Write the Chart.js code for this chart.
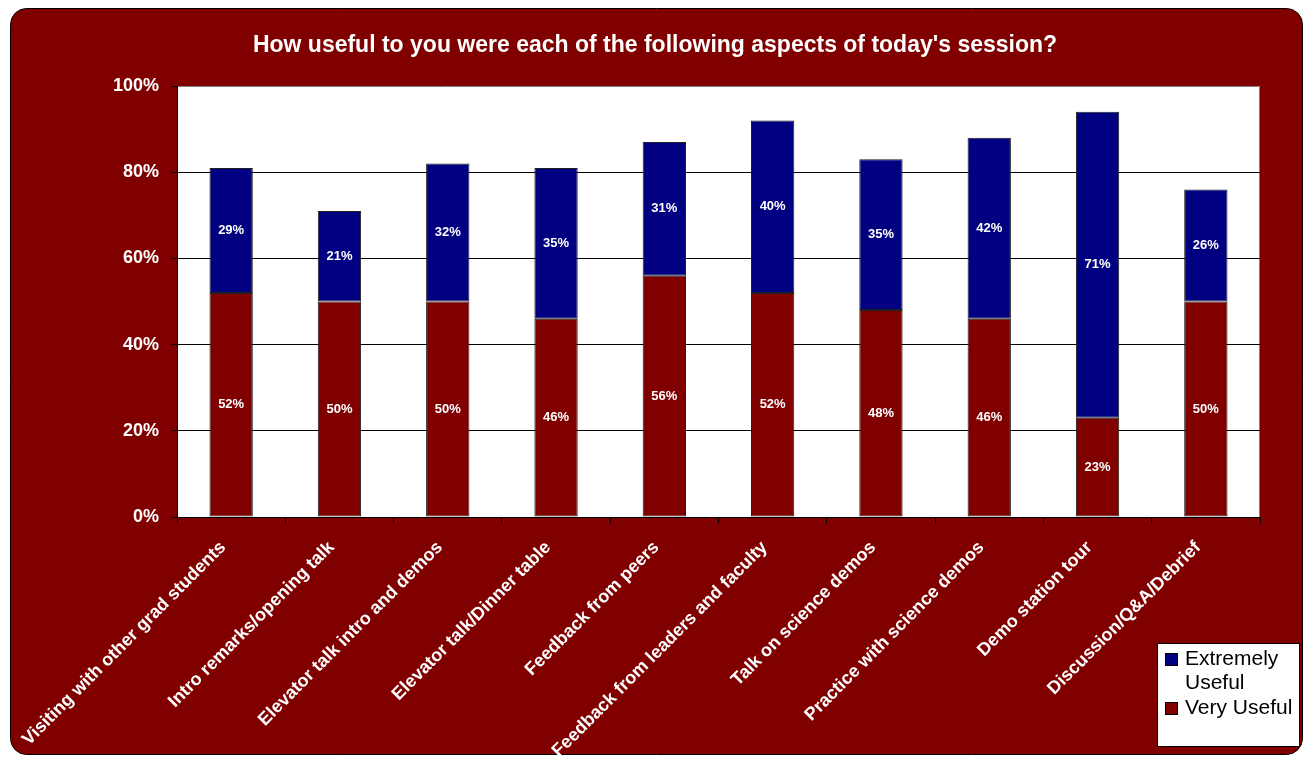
<!DOCTYPE html>
<html>
<head>
<meta charset="utf-8">
<title>Session usefulness</title>
<script src="https://cdn.jsdelivr.net/npm/chart.js@4.4.1/dist/chart.umd.min.js"></script>
<style>
  html, body { margin: 0; padding: 0; background: #ffffff; }
  #wrap { position: relative; width: 1304px; height: 757px; }
</style>
</head>
<body>
<div id="wrap"><canvas id="usefulChart" width="1304" height="757"></canvas></div>
<script>
// Survey results: share of respondents per rating
const aspects = [
    'Visiting with other grad students',
    'Intro remarks/opening talk',
    'Elevator talk intro and demos',
    'Elevator talk/Dinner table',
    'Feedback from peers',
    'Feedback from leaders and faculty',
    'Talk on science demos',
    'Practice with science demos',
    'Demo station tour',
    'Discussion/Q&A/Debrief'
];
const veryUseful = [52, 50, 50, 46, 56, 52, 48, 46, 23, 50];
const extremelyUseful = [29, 21, 32, 35, 31, 40, 35, 42, 71, 26];
const percentTicks = [0, 20, 40, 60, 80, 100];

const MAROON = '#800000';
const NAVY = '#000080';
const FONT = 'Arial, "Liberation Sans", sans-serif';

// Rounded maroon frame and white plot area behind everything
const framePlugin = {
    id: 'frame',
    beforeDraw(chart) {
        const ctx = chart.ctx;
        const a = chart.chartArea;
        ctx.save();
        ctx.beginPath();
        ctx.roundRect(10.5, 8.5, 1292, 746, 16);
        ctx.fillStyle = MAROON;
        ctx.fill();
        ctx.lineWidth = 1;
        ctx.strokeStyle = '#000000';
        ctx.stroke();
        ctx.fillStyle = '#ffffff';
        ctx.fillRect(a.left, a.top, a.right - a.left, a.bottom - a.top);
        // grey border on top and right of the plot area
        ctx.strokeStyle = '#808080';
        ctx.beginPath();
        ctx.moveTo(a.left, a.top + 0.5);
        ctx.lineTo(a.right - 0.5, a.top + 0.5);
        ctx.lineTo(a.right - 0.5, a.bottom);
        ctx.stroke();
        ctx.restore();
    }
};

// White percentage labels centred in every bar segment
const segmentLabels = {
    id: 'segmentLabels',
    afterDatasetsDraw(chart) {
        const ctx = chart.ctx;
        ctx.save();
        ctx.font = 'bold 13px ' + FONT;
        ctx.fillStyle = '#ffffff';
        ctx.textAlign = 'center';
        ctx.textBaseline = 'middle';
        chart.data.datasets.forEach((ds, i) => {
            chart.getDatasetMeta(i).data.forEach((bar, j) => {
                ctx.fillText(ds.data[j] + '%', bar.x, (bar.y + bar.base) / 2);
            });
        });
        ctx.restore();
    }
};

// Boxed legend in the lower right corner, top entry first
const boxLegend = {
    id: 'boxLegend',
    afterDraw(chart) {
        const ctx = chart.ctx;
        const x = 1157, y = 643, w = 143, h = 104;
        ctx.save();
        ctx.fillStyle = '#ffffff';
        ctx.fillRect(x, y, w, h);
        ctx.strokeStyle = '#000000';
        ctx.lineWidth = 1;
        ctx.strokeRect(x + 0.5, y + 0.5, w - 1, h - 1);
        ctx.font = '21px ' + FONT;
        ctx.textBaseline = 'middle';
        const entries = [
            { ds: chart.data.datasets[1], lines: ['Extremely', 'Useful'] },
            { ds: chart.data.datasets[0], lines: ['Very Useful'] }
        ];
        let row = y + 16;
        entries.forEach(e => {
            ctx.fillStyle = e.ds.backgroundColor;
            ctx.fillRect(x + 8, row - 6, 13, 13);
            ctx.strokeStyle = '#000000';
            ctx.strokeRect(x + 8.5, row - 5.5, 12, 12);
            ctx.fillStyle = '#000000';
            e.lines.forEach(t => {
                ctx.fillText(t, x + 28, row);
                row += 24.5;
            });
        });
        ctx.restore();
    }
};

new Chart(document.getElementById('usefulChart'), {
    type: 'bar',
    data: {
        labels: aspects,
        datasets: [
            {
                label: 'Very Useful',
                data: veryUseful,
                backgroundColor: MAROON,
                borderColor: '#202020',
                borderWidth: 1,
                borderSkipped: false,
                barPercentage: 0.4,
                categoryPercentage: 1
            },
            {
                label: 'Extremely Useful',
                data: extremelyUseful,
                backgroundColor: NAVY,
                borderColor: '#202020',
                borderWidth: 1,
                borderSkipped: false,
                barPercentage: 0.4,
                categoryPercentage: 1
            }
        ]
    },
    options: {
        responsive: false,
        animation: false,
        layout: { padding: { left: 50, right: 44, top: 0, bottom: 0 } },
        plugins: {
            legend: { display: false },
            tooltip: { enabled: false },
            title: {
                display: true,
                text: "How useful to you were each of the following aspects of today's session?",
                color: '#ffffff',
                font: { family: FONT, size: 23, weight: 'bold', lineHeight: 1.2 },
                padding: { top: 32, bottom: 26.4 }
            }
        },
        scales: {
            x: {
                stacked: true,
                afterFit(scale) { scale.height = 240; },
                grid: {
                    offset: true,
                    drawOnChartArea: false,
                    color: '#000000',
                    tickLength: 6
                },
                border: { color: '#000000', width: 1 },
                ticks: {
                    color: '#ffffff',
                    font: { family: FONT, size: 18, weight: 'bold' },
                    minRotation: 45,
                    maxRotation: 45,
                    autoSkip: false,
                    padding: 14,
                    labelOffset: -8
                }
            },
            y: {
                stacked: true,
                min: 0,
                max: 100,
                afterFit(scale) { scale.width = 127; },
                afterBuildTicks(scale) {
                    scale.ticks = percentTicks.map(v => ({ value: v }));
                },
                grid: {
                    color: ctx => (ctx.tick && ctx.tick.value > 0 && ctx.tick.value < 100) ? '#000000' : 'rgba(0,0,0,0)',
                    tickColor: '#000000',
                    tickLength: 6
                },
                border: { color: '#000000', width: 1 },
                ticks: {
                    color: '#ffffff',
                    font: { family: FONT, size: 18, weight: 'bold' },
                    padding: 12,
                    callback: v => v + '%'
                }
            }
        }
    },
    plugins: [framePlugin, segmentLabels, boxLegend]
});
</script>
</body>
</html>
